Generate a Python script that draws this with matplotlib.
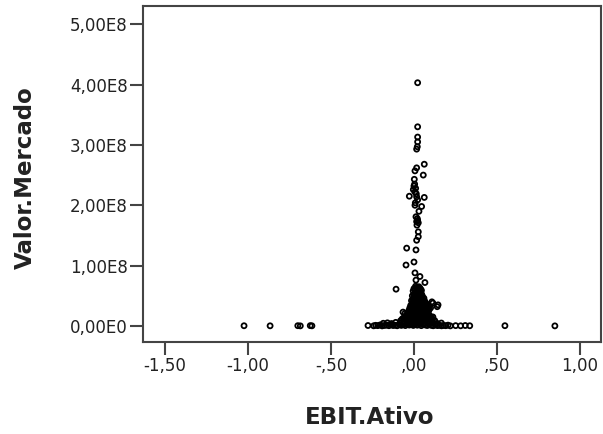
import numpy as np
import matplotlib.pyplot as plt

# EBIT.Ativo (x) vs Valor.Mercado (y, in millions)
outlier_x = [-1.024, -0.867, -0.700, -0.685, -0.625, -0.615, -0.277, 0.548, 0.849]
outlier_y = [0.4, 0.3, 0.5, 0.2, 0.6, 0.3, 0.8, 0.5, 0.2]

row1_x = [-0.243, -0.231, -0.218, -0.204, -0.192, -0.178, -0.165, -0.151, -0.140, -0.126,
          -0.113, -0.101, -0.088, -0.076, -0.064, -0.052, -0.040, -0.028, -0.016, -0.004,
          0.008, 0.020, 0.032, 0.044, 0.056, 0.068, 0.080, 0.092, 0.104, 0.116,
          0.128, 0.141, 0.153, 0.166, 0.178, 0.191, 0.205, 0.219, 0.251, 0.281,
          0.309, 0.336]
row1_y = [0.3, 1.1, 0.6, 1.8, 0.2, 0.9, 1.4, 0.5, 2.1, 0.8,
          1.2, 0.4, 2.6, 1.0, 3.1, 0.7, 2.4, 1.5, 3.3, 0.9,
          2.8, 1.3, 3.6, 0.6, 2.2, 1.7, 0.8, 2.9, 1.1, 0.4,
          1.9, 0.7, 1.2, 0.3, 0.9, 0.5, 1.4, 0.2, 0.6, 0.3,
          0.8, 0.4]

row2_x = [-0.185, -0.160, -0.135, -0.110, -0.085, -0.060, -0.035, -0.010, 0.015, 0.040,
          0.065, 0.090, 0.115, 0.140, 0.165]
row2_y = [4.5, 5.2, 4.1, 6.0, 4.8, 6.5, 5.1, 7.2, 5.8, 6.9,
          4.6, 6.2, 5.0, 4.3, 4.9]

base_x = [-0.080, -0.060, -0.040, -0.020, 0.000, 0.020, 0.040, 0.060, 0.080, 0.100, 0.125,
          -0.060, -0.040, -0.020, 0.000, 0.020, 0.040, 0.060, 0.080, 0.105,
          -0.045, -0.025, -0.005, 0.015, 0.035, 0.055, 0.075, 0.095,
          -0.035, -0.015, 0.005, 0.025, 0.045, 0.065, 0.085,
          -0.030, -0.010, 0.010, 0.030, 0.050, 0.070, 0.090,
          -0.025, -0.005, 0.015, 0.035, 0.055, 0.080, 0.100,
          -0.020, 0.000, 0.020, 0.040, 0.060, 0.085,
          -0.010, 0.010, 0.030, 0.050, 0.075,
          -0.015, 0.005, 0.025, 0.045, 0.065,
          0.000, 0.020, 0.040, 0.060,
          -0.010, 0.010, 0.030, 0.050,
          0.005, 0.025, 0.045,
          -0.005, 0.015, 0.035,
          0.000, 0.020, 0.040,
          0.010, 0.030,
          0.114, 0.145, -0.054, 0.114, 0.108, 0.140, -0.066]
base_y = [9, 11, 10, 12, 9, 10, 11, 9, 12, 10, 9,
          14, 15, 13, 14, 16, 14, 13, 15, 14,
          18, 19, 17, 18, 19, 17, 18, 17,
          22, 23, 21, 22, 23, 21, 22,
          26, 27, 25, 26, 27, 25, 26,
          30, 31, 29, 30, 31, 29, 30,
          34, 35, 33, 34, 35, 33,
          38, 39, 37, 38, 37,
          42, 43, 41, 42, 41,
          46, 47, 45, 46,
          50, 51, 49, 50,
          54, 55, 53,
          58, 59, 57,
          62, 63, 61,
          66, 65,
          38, 35, 21, 15, 40, 32, 23]

fill_x = [-0.070, -0.050, -0.030, -0.010, 0.010, 0.030, 0.050, 0.070, 0.090, 0.112,
          -0.050, -0.030, -0.010, 0.010, 0.030, 0.050, 0.070, 0.090,
          -0.040, -0.020, 0.000, 0.020, 0.040, 0.060, 0.080,
          -0.025, -0.005, 0.015, 0.035, 0.055, 0.075,
          -0.020, 0.000, 0.020, 0.040, 0.060, 0.080,
          -0.015, 0.005, 0.025, 0.045, 0.065, 0.090,
          -0.005, 0.015, 0.035, 0.055, 0.070,
          0.000, 0.020, 0.040, 0.060,
          -0.005, 0.015, 0.035, 0.055,
          0.005, 0.025, 0.045,
          0.000, 0.020, 0.040,
          0.010, 0.030,
          0.005, 0.025, 0.045,
          0.015, 0.035]
fill_y = [12, 13, 11, 12, 13, 12, 11, 13, 12, 11,
          16, 17, 15, 16, 17, 16, 15, 16,
          20, 21, 19, 20, 21, 19, 20,
          24, 25, 23, 24, 25, 23,
          28, 29, 27, 28, 29, 27,
          32, 33, 31, 32, 33, 31,
          36, 37, 35, 36, 35,
          40, 41, 39, 40,
          44, 45, 43, 44,
          48, 49, 47,
          52, 53, 51,
          56, 55,
          60, 61, 59,
          64, 63]

upper_x = [0.022, 0.022, 0.022, 0.022, 0.020, 0.016, 0.062, 0.016, 0.006, 0.056,
           0.002, 0.000, -0.004, 0.006, -0.028, 0.016, 0.062, 0.022, 0.006, 0.046,
           0.012, 0.022, 0.016, 0.026, 0.026, 0.016, -0.044, 0.012, 0.000, -0.048,
           0.006, 0.036, 0.012, 0.066, -0.108, 0.010, 0.004, 0.014, 0.020, 0.026,
           0.018, 0.030, 0.008]
upper_y = [403, 330, 313, 305, 297, 293, 268, 262, 257, 250,
           243, 232, 226, 222, 215, 214, 213, 209, 200, 198,
           181, 175, 173, 156, 148, 142, 129, 126, 106, 101,
           88, 82, 76, 72, 61, 228, 235, 219, 178, 171,
           167, 190, 204]

xticks = [-1.5, -1.0, -0.5, 0.0, 0.5, 1.0]
xtick_labels = ['-1,50', '-1,00', '-,50', ',00', ',50', '1,00']
yticks = [0, 1e8, 2e8, 3e8, 4e8, 5e8]
ytick_labels = ['0,00E0', '1,00E8', '2,00E8', '3,00E8', '4,00E8', '5,00E8']

x = np.concatenate([outlier_x, row1_x, row2_x, base_x, fill_x, upper_x])
y = np.concatenate([outlier_y, row1_y, row2_y, base_y, fill_y, upper_y]) * 1e6

fig = plt.figure(figsize=(6.03, 4.34), dpi=100)
ax = fig.add_axes([0.2371, 0.212, 0.7596, 0.774])

ax.scatter(x, y, s=13, facecolors='none', edgecolors='black', linewidths=1.3)

ax.set_xlim(-1.633, 1.127)
ax.set_ylim(-0.265e8, 5.3e8)
ax.set_xticks(xticks)
ax.set_xticklabels(xtick_labels)
ax.set_yticks(yticks)
ax.set_yticklabels(ytick_labels)

for sp in ax.spines.values():
    sp.set_color('#444444')
    sp.set_linewidth(1.5)
ax.tick_params(axis='both', length=9.5, width=1.5, color='#444444',
               labelsize=12, labelcolor='#222222', pad=1.5)

fig.text(32 / 603, 1 - 177.5 / 434, 'Valor.Mercado', rotation=90, rotation_mode='anchor',
         ha='center', va='baseline', fontsize=16.5, fontweight='bold', color='#222222')
fig.text(370 / 603, 1 - 424 / 434, 'EBIT.Ativo', ha='center', va='baseline',
         fontsize=16.5, fontweight='bold', color='#222222')

fig.savefig('out.png', dpi=100)
